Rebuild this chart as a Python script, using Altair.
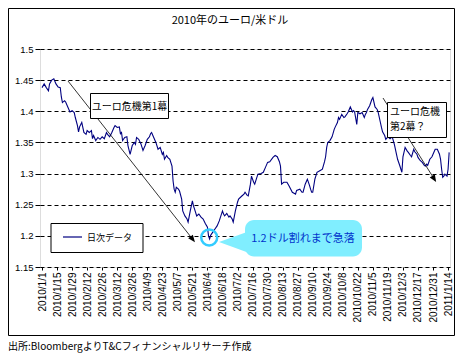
import altair as alt
import pandas as pd

# ---- data (EUR/USD daily, 2010/1 - 2011/1) ----
month_keys = ["2010-01", "2010-02", "2010-03", "2010-04", "2010-05", "2010-06",
              "2010-07", "2010-08", "2010-09", "2010-10", "2010-11", "2010-12", "2011-01"]
days_jan10 = [1, 3, 5, 7, 8, 10, 12, 14, 16, 18, 19, 20, 22, 23, 25, 27, 29, 31]
vals_jan10 = [1.438, 1.444, 1.438, 1.433, 1.444, 1.450, 1.452, 1.444, 1.439, 1.438, 1.423, 1.414,
              1.417, 1.415, 1.407, 1.399, 1.401, 1.398]
days_feb10 = [1, 3, 4, 5, 7, 9, 11, 12, 14, 16, 17, 18, 20, 22, 24, 26, 28]
vals_feb10 = [1.390, 1.377, 1.367, 1.375, 1.382, 1.366, 1.363, 1.369, 1.366, 1.369, 1.356, 1.361,
              1.353, 1.358, 1.355, 1.359, 1.356]
days_mar10 = [2, 3, 5, 7, 9, 10, 12, 14, 15, 16, 17, 19, 21, 22, 24, 26, 28, 29, 30]
vals_mar10 = [1.366, 1.363, 1.359, 1.366, 1.374, 1.377, 1.374, 1.375, 1.364, 1.366, 1.353, 1.358,
              1.359, 1.345, 1.331, 1.345, 1.350, 1.347, 1.358]
days_apr10 = [1, 3, 5, 7, 9, 11, 12, 13, 15, 17, 19, 21, 23, 24, 25, 27, 28, 30]
vals_apr10 = [1.355, 1.348, 1.337, 1.345, 1.355, 1.359, 1.364, 1.366, 1.358, 1.350, 1.339, 1.342,
              1.331, 1.334, 1.323, 1.329, 1.326, 1.323]
days_may10 = [2, 3, 4, 5, 6, 8, 9, 11, 12, 14, 16, 17, 19, 21, 22, 23, 25, 27, 29, 31]
vals_may10 = [1.312, 1.288, 1.275, 1.270, 1.278, 1.275, 1.272, 1.259, 1.240, 1.232, 1.227, 1.222,
              1.240, 1.256, 1.248, 1.243, 1.232, 1.235, 1.230, 1.227]
days_jun10 = [2, 4, 5, 6, 7, 9, 11, 13, 15, 18, 19, 20, 22, 24, 25, 27, 28, 30]
vals_jun10 = [1.220, 1.214, 1.200, 1.195, 1.201, 1.206, 1.211, 1.216, 1.224, 1.240, 1.235, 1.232,
              1.236, 1.230, 1.232, 1.227, 1.222, 1.240]
days_jul10 = [2, 3, 6, 8, 9, 11, 12, 14, 15, 17, 18, 20, 21, 24, 26, 28, 30]
vals_jul10 = [1.254, 1.259, 1.264, 1.267, 1.270, 1.265, 1.264, 1.283, 1.296, 1.286, 1.283, 1.294,
              1.299, 1.300, 1.302, 1.310, 1.318]
days_aug10 = [1, 4, 6, 8, 10, 11, 12, 14, 17, 19, 22, 24, 25, 26, 29, 31]
vals_aug10 = [1.319, 1.326, 1.329, 1.327, 1.319, 1.312, 1.283, 1.286, 1.286, 1.280, 1.270, 1.268,
              1.267, 1.273, 1.275, 1.270]
days_sep10 = [1, 3, 5, 7, 8, 9, 10, 12, 14, 17, 19, 21, 22, 23, 24, 26, 28, 30]
vals_sep10 = [1.270, 1.283, 1.291, 1.281, 1.275, 1.270, 1.270, 1.291, 1.302, 1.305, 1.307, 1.319,
              1.327, 1.342, 1.350, 1.353, 1.359, 1.371]
days_oct10 = [1, 3, 4, 5, 7, 9, 10, 12, 13, 15, 17, 18, 19, 21, 22, 24, 26, 28, 29, 30, 31]
vals_oct10 = [1.375, 1.382, 1.390, 1.387, 1.395, 1.390, 1.391, 1.396, 1.399, 1.407, 1.399, 1.401,
              1.399, 1.379, 1.398, 1.396, 1.398, 1.390, 1.395, 1.398, 1.403]
days_nov10 = [2, 4, 5, 7, 9, 10, 12, 13, 14, 16, 17, 19, 21, 23, 25, 26, 27, 28, 30]
vals_nov10 = [1.409, 1.419, 1.422, 1.407, 1.403, 1.398, 1.382, 1.374, 1.367, 1.361, 1.355, 1.359,
              1.356, 1.359, 1.347, 1.339, 1.331, 1.323, 1.313]
days_dec10 = [2, 3, 5, 7, 8, 10, 11, 13, 14, 16, 17, 19, 21, 23, 24, 25, 26, 28, 30]
vals_dec10 = [1.302, 1.327, 1.342, 1.336, 1.334, 1.329, 1.327, 1.339, 1.335, 1.331, 1.326, 1.321,
              1.318, 1.313, 1.312, 1.315, 1.313, 1.323, 1.327]
days_jan11 = [1, 2, 4, 6, 7, 8, 9, 10, 11, 13, 14, 15]
vals_jan11 = [1.335, 1.339, 1.339, 1.331, 1.323, 1.307, 1.294, 1.296, 1.299, 1.296, 1.307, 1.334]

month_days = [days_jan10, days_feb10, days_mar10, days_apr10, days_may10, days_jun10, days_jul10,
              days_aug10, days_sep10, days_oct10, days_nov10, days_dec10, days_jan11]
month_vals = [vals_jan10, vals_feb10, vals_mar10, vals_apr10, vals_may10, vals_jun10, vals_jul10,
              vals_aug10, vals_sep10, vals_oct10, vals_nov10, vals_dec10, vals_jan11]

tick_dates = ["2010-01-01", "2010-01-15", "2010-01-29", "2010-02-12", "2010-02-26", "2010-03-12",
              "2010-03-26", "2010-04-09", "2010-04-23", "2010-05-07", "2010-05-21", "2010-06-04",
              "2010-06-18", "2010-07-02", "2010-07-16", "2010-07-30", "2010-08-13", "2010-08-27",
              "2010-09-10", "2010-09-24", "2010-10-08", "2010-10-22", "2010-11-05", "2010-11-19",
              "2010-12-03", "2010-12-17", "2010-12-31", "2011-01-14"]
y_ticks = [1.15, 1.2, 1.25, 1.3, 1.35, 1.4, 1.45, 1.5]

title_text = "2010年のユーロ/米ドル"
legend_label = "日次データ"
note1 = "ユーロ危機第1幕"
note2 = ["ユーロ危機", "第2幕？"]
note3 = "1.2ドル割れまで急落"
source_text = "出所:BloombergよりT&Cフィナンシャルリサーチ作成"

# ---- build table ----
dates, rates = [], []
for key, ds, vs in zip(month_keys, month_days, month_vals):
    assert len(ds) == len(vs)
    for d, v in zip(ds, vs):
        dates.append(f"{key}-{d:02d}")
        rates.append(v)
df = pd.DataFrame({"date": dates, "rate": rates})


def ms(s):
    return int(pd.Timestamp(s).value // 10**6)


CJK = "Noto Sans CJK JP"
LAT = "Liberation Sans"
NAVY = "#000080"
CYAN = "#33CCFF"

x_scale = alt.Scale(type="utc", domain=[ms("2009-12-30T03:00"), ms("2011-01-15T19:00")])
y_scale = alt.Scale(domain=[1.15, 1.5], nice=False, zero=False)

series = alt.Chart(df).mark_line(color=NAVY, strokeWidth=1.1).encode(
    x=alt.X("date:T", scale=x_scale, title=None,
            axis=alt.Axis(values=[ms(d) for d in tick_dates],
                          labelExpr="utcFormat(datum.value, '%Y/%-m/%-d')",
                          labelAngle=270, labelAlign="right", labelBaseline="middle",
                          labelFont=LAT, labelFontSize=10, labelColor="black",
                          labelPadding=2, labelOverlap=False, labelFlush=False,
                          tickSize=3, tickColor="black", domain=False, grid=False)),
    y=alt.Y("rate:Q", scale=y_scale, title=None,
            axis=alt.Axis(values=y_ticks, format=".2~f", labelFont=LAT, labelFontSize=9.5,
                          labelColor="black", labelPadding=2, tickSize=5, tickColor="black",
                          domain=False, grid=True, gridColor="black", gridDash=[4, 3],
                          gridWidth=1, gridOpacity=1)),
)

one = pd.DataFrame({"k": [0]})


def ann():
    return alt.Chart(one)


def box(x1, y1, x2, y2, **kw):
    return ann().mark_rect(**kw).encode(
        x=alt.value(x1), x2=alt.value(x2), y=alt.value(y1), y2=alt.value(y2))


def seg(x1, y1, x2, y2, **kw):
    return ann().mark_rule(**kw).encode(
        x=alt.value(x1), x2=alt.value(x2), y=alt.value(y1), y2=alt.value(y2))


def txt(x, y, text, **kw):
    return ann().mark_text(text=text, **kw).encode(x=alt.value(x), y=alt.value(y))


def head(x, y, angle):
    return ann().mark_point(shape="M0,-1 L0.75,0.8 L-0.75,0.8 Z", filled=True, fill="black",
                            strokeWidth=0, size=64, angle=angle, opacity=1).encode(
        x=alt.value(x), y=alt.value(y))


layers = [
    series,
    # legend
    box(11, 174.5, 103, 203.5, fill="white", stroke="black", strokeWidth=1),
    seg(23, 188, 42, 188, color=NAVY, strokeWidth=1.2),
    txt(47, 188.5, legend_label, font=CJK, fontSize=9, align="left", baseline="middle", color="black"),
    # arrows
    seg(28, 32, 152.5, 190, color="black", strokeWidth=0.8),
    head(152.5, 190, 141.7),
    seg(343, 49, 394, 129.6, color="black", strokeWidth=0.8),
    head(394, 129.6, 147.7),
    # callout 1
    box(50.5, 44.5, 128.5, 69.5, fill="white", stroke="black", strokeWidth=1),
    txt(89.5, 57.5, note1, font=CJK, fontSize=10, align="center", baseline="middle", color="black"),
    # callout 2
    box(347.5, 53.5, 406.5, 88.5, fill="white", stroke="black", strokeWidth=1),
    txt(350, 57.5, note2, font=CJK, fontSize=10, align="left", baseline="top", lineHeight=15, color="black"),
    # cyan circle and callout
    ann().mark_point(shape="circle", filled=False, stroke=CYAN, strokeWidth=2.5, size=256, opacity=1).encode(
        x=alt.value(169.2), y=alt.value(188.5)),
    ann().mark_point(shape="M-1,-0.06 L0.75,-0.69 L1.06,0.69 Z", filled=True, fill="#80EEFF",
                     strokeWidth=0, size=1024, opacity=1).encode(x=alt.value(195), y=alt.value(194)),
    box(205, 171, 322, 207.5, fill="#80EEFF", cornerRadius=9),
    txt(263, 190, note3, font=CJK, fontSize=11, align="center", baseline="middle", color="#0033CC"),
    # title, source, frame
    txt(190, -28, title_text, font=CJK, fontSize=11, align="center", baseline="middle", color="black"),
    txt(-32, 301, source_text, font=CJK, fontSize=10, align="left", baseline="alphabetic", color="black"),
    box(-31.5, -40.5, 414.5, 286.5, filled=False, stroke="black", strokeWidth=1),
]

chart = alt.layer(*layers).properties(
    width=410, height=218,
    padding={"left": 32, "top": 41, "right": 5, "bottom": 86},
    autosize=alt.AutoSizeParams(type="none"),
).configure_view(stroke="black", strokeWidth=1).configure(background="white")

chart.save("out.html", embed_options={"renderer": "svg", "actions": False})
